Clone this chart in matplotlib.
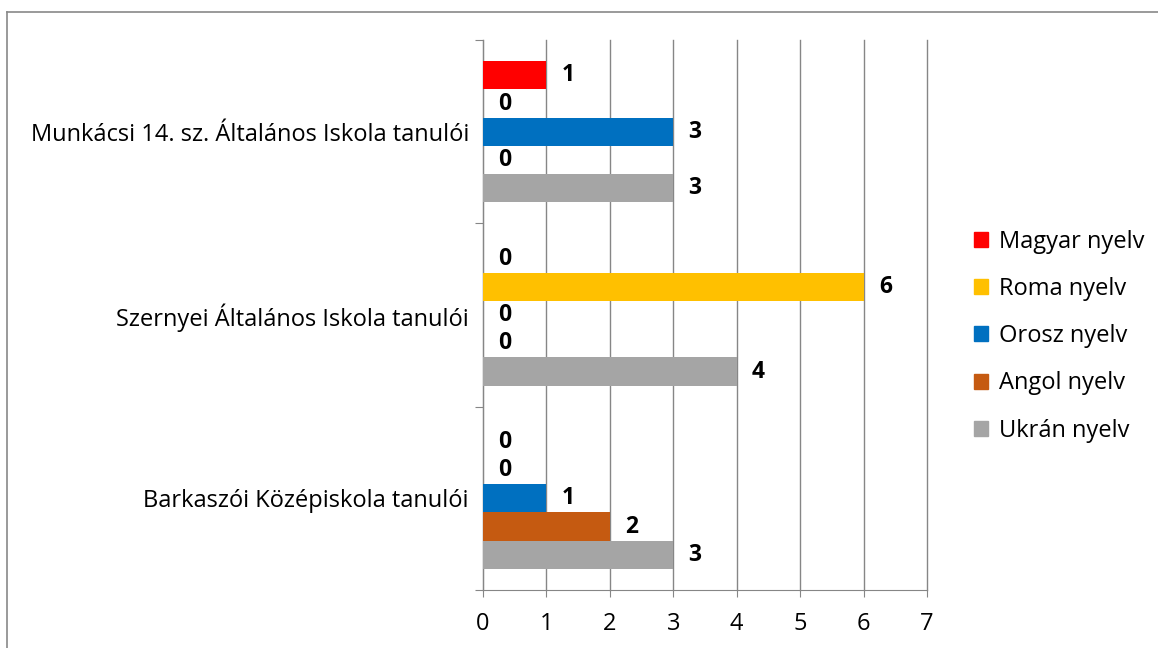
import matplotlib.pyplot as plt
from matplotlib.patches import Patch
from matplotlib.lines import Line2D
import numpy as np

plt.rcParams['font.family'] = ['Open Sans', 'DejaVu Sans']

schools = ['Barkaszói Középiskola tanulói',
           'Szernyei Általános Iskola tanulói',
           'Munkácsi 14. sz. Általános Iskola tanulói']
languages = ['Magyar nyelv', 'Roma nyelv', 'Orosz nyelv', 'Angol nyelv', 'Ukrán nyelv']
colors = ['#FF0000', '#FFC000', '#0070C0', '#C55A11', '#A5A5A5']

# values per language, ordered like schools (bottom to top)
magyar = [0, 0, 1]
roma = [0, 6, 0]
orosz = [1, 0, 3]
angol = [2, 0, 0]
ukran = [3, 4, 3]
series = [magyar, roma, orosz, angol, ukran]

fig = plt.figure(figsize=(11.58, 6.48), dpi=100)
ax = fig.add_axes([0.417, 0.0895, 0.3835, 0.8485])

h = 0.154
y = np.arange(len(schools))
for i, (vals, col) in enumerate(zip(series, colors)):
    pos = y + (2 - i) * h
    ax.barh(pos, vals, height=h, color=col, zorder=3)
    for p, v in zip(pos, vals):
        ax.annotate(str(v), (v, p), xytext=(11, 0), textcoords='offset points',
                    ha='left', va='center', fontsize=16.5, fontweight='bold')

ax.set_xlim(0, 7)
ax.set_ylim(-0.5, 2.5)
ax.set_xticks(range(8))
ax.tick_params(axis='x', labelsize=17, length=5, color='#868686', pad=11)
ax.set_yticks([-0.5, 0.5, 1.5, 2.5])
ax.set_yticklabels([])
ax.set_yticks(y, minor=True)
ax.set_yticklabels(schools, minor=True, fontsize=17)
ax.tick_params(axis='y', which='minor', length=0, pad=10)
ax.tick_params(axis='y', which='major', length=6, color='#868686')
ax.grid(axis='x', color='#868686', linewidth=1, zorder=0)
for gl in ax.get_xgridlines():
    gl.set_clip_on(False)
for s in ['top', 'right']:
    ax.spines[s].set_visible(False)
for s in ['left', 'bottom']:
    ax.spines[s].set_color('#868686')

handles = [Patch(color=c, label=l) for c, l in zip(colors, languages)]
fig.legend(handles=handles, loc='center left', bbox_to_anchor=(0.823, 0.481),
           frameon=False, fontsize=17, handlelength=0.6, handleheight=0.6,
           handletextpad=0.45, labelspacing=0.98)

# chart area border (only left and top edges visible)
fig.lines.append(Line2D([6.5 / 1158, 6.5 / 1158], [0, 1 - 11.5 / 648],
                        transform=fig.transFigure, color='#898989', linewidth=1.2))
fig.lines.append(Line2D([6.5 / 1158, 1], [1 - 11.5 / 648, 1 - 11.5 / 648],
                        transform=fig.transFigure, color='#898989', linewidth=1.2))

fig.savefig('out.png', dpi=100)
